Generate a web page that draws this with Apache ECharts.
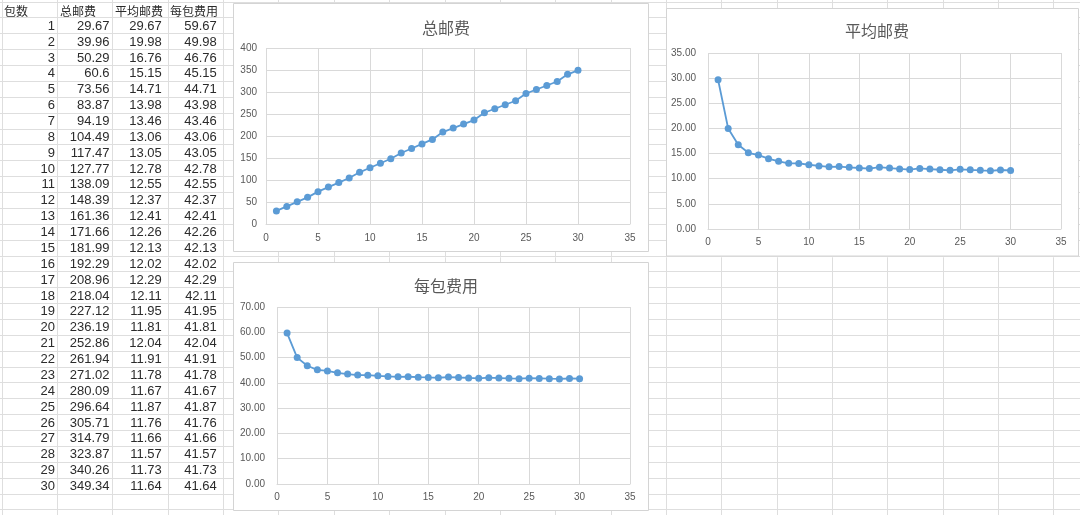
<!DOCTYPE html>
<html>
<head>
<meta charset="utf-8">
<script src="https://cdn.jsdelivr.net/npm/echarts@6/dist/echarts.min.js"></script>
<style>
  html, body { margin: 0; padding: 0; background: #fff; }
  #main { width: 1080px; height: 515px; }
</style>
</head>
<body>
<div id="main"></div>
<script>
// Sheet columns
const headers = ['包数', '总邮费', '平均邮费', '每包费用'];
const packages = [1, 2, 3, 4, 5, 6, 7, 8, 9, 10, 11, 12, 13, 14, 15, 16, 17, 18, 19, 20, 21, 22, 23, 24, 25, 26, 27, 28, 29, 30];
const totalFee = [29.67, 39.96, 50.29, 60.6, 73.56, 83.87, 94.19, 104.49, 117.47, 127.77, 138.09, 148.39, 161.36, 171.66, 181.99,
  192.29, 208.96, 218.04, 227.12, 236.19, 252.86, 261.94, 271.02, 280.09, 296.64, 305.71, 314.79, 323.87, 340.26, 349.34];
const avgFee = [29.67, 19.98, 16.76, 15.15, 14.71, 13.98, 13.46, 13.06, 13.05, 12.78, 12.55, 12.37, 12.41, 12.26, 12.13,
  12.02, 12.29, 12.11, 11.95, 11.81, 12.04, 11.91, 11.78, 11.67, 11.87, 11.76, 11.66, 11.57, 11.73, 11.64];
const perPackFee = [59.67, 49.98, 46.76, 45.15, 44.71, 43.98, 43.46, 43.06, 43.05, 42.78, 42.55, 42.37, 42.41, 42.26, 42.13,
  42.02, 42.29, 42.11, 41.95, 41.81, 42.04, 41.91, 41.78, 41.67, 41.87, 41.76, 41.66, 41.57, 41.73, 41.64];

const BLUE = '#5B9BD5';
const AXIS_TEXT = '#595959';
const GRID_LINE = '#D9D9D9';

// Worksheet cell geometry
const COL_X0 = 1.7, COL_W = 55.35;
const ROW_Y0 = 1.6, ROW_H = 15.87;

const graphics = [];

// Worksheet gridlines
for (let k = 0; k <= 19; k++) {
  const x = Math.round(COL_X0 + COL_W * k) + 0.5;
  graphics.push({ type: 'line', z: -30, silent: true,
    shape: { x1: x, y1: 0, x2: x, y2: 515 },
    style: { stroke: '#DEDEDE', lineWidth: 1 } });
}
for (let k = 0; k <= 32; k++) {
  const y = Math.round(ROW_Y0 + ROW_H * k) + 0.5;
  graphics.push({ type: 'line', z: -30, silent: true,
    shape: { x1: 0, y1: y, x2: 1080, y2: y },
    style: { stroke: '#DEDEDE', lineWidth: 1 } });
}

// Cell text
const cellFont = '13px "Liberation Sans Narrow", "Liberation Sans", Arial, sans-serif';
const headFont = '12px "Noto Sans CJK SC", sans-serif';
const headLeft = [4, 60, 115, 170];
headers.forEach((h, i) => {
  graphics.push({ type: 'text', z: -25, silent: true, x: headLeft[i], y: 11,
    style: { text: h, font: headFont, fill: '#2B2B2B', textAlign: 'left', textVerticalAlign: 'middle' } });
});
const colRight = [55, 109.5, 161.7, 216.7];
const columns = [packages, totalFee, avgFee, perPackFee];
packages.forEach((p, r) => {
  const y = ROW_Y0 + ROW_H * (r + 1.5) + 0.8;
  columns.forEach((col, c) => {
    graphics.push({ type: 'text', z: -25, silent: true, x: colRight[c], y: y,
      style: { text: String(col[r]), font: cellFont, fill: '#2B2B2B', textAlign: 'right', textVerticalAlign: 'middle' } });
  });
});

// Chart panels
const panels = [
  { x: 233.5, y: 3.5, width: 415, height: 248 },
  { x: 666.5, y: 8.5, width: 412, height: 247.5 },
  { x: 233.5, y: 262.5, width: 415, height: 248 }
];
panels.forEach(s => {
  graphics.push({ type: 'rect', z: -20, silent: true, shape: s,
    style: { fill: '#fff', stroke: '#D4D4D4', lineWidth: 1 } });
});

const grids = [
  { left: 266, top: 48, width: 364, height: 176 },
  { left: 708, top: 53, width: 353, height: 176 },
  { left: 277, top: 307, width: 353, height: 177 }
];

const labelFont = { color: AXIS_TEXT, fontSize: 10, fontFamily: '"Liberation Sans", Arial, sans-serif' };

function xAxisFor(i, margin) {
  return {
    type: 'value', gridIndex: i, min: 0, max: 35, interval: 5,
    axisLine: { show: true, lineStyle: { color: GRID_LINE } },
    axisTick: { show: false },
    splitLine: { show: true, lineStyle: { color: GRID_LINE, width: 1 } },
    axisLabel: Object.assign({ margin: margin }, labelFont)
  };
}
function yAxisFor(i, max, interval, decimals, margin) {
  return {
    type: 'value', gridIndex: i, min: 0, max: max, interval: interval,
    axisLine: { show: false },
    axisTick: { show: false },
    splitLine: { show: true, lineStyle: { color: GRID_LINE, width: 1 } },
    axisLabel: Object.assign({ margin: margin, formatter: v => v.toFixed(decimals) }, labelFont)
  };
}

function seriesFor(i, values) {
  return {
    type: 'line', xAxisIndex: i, yAxisIndex: i,
    data: packages.map((p, k) => [p, values[k]]),
    symbol: 'circle', symbolSize: 7,
    itemStyle: { color: BLUE },
    lineStyle: { color: BLUE, width: 1.8 },
    animation: false
  };
}

const titleStyle = { fontSize: 16, fontWeight: 'normal', color: AXIS_TEXT, fontFamily: '"Noto Sans CJK SC", sans-serif' };

const chart = echarts.init(document.getElementById('main'), null, { renderer: 'canvas' });
chart.setOption({
  animation: false,
  backgroundColor: '#fff',
  title: [
    { text: '总邮费', left: 441, top: 15, textAlign: 'center', textStyle: titleStyle },
    { text: '平均邮费', left: 872, top: 18, textAlign: 'center', textStyle: titleStyle },
    { text: '每包费用', left: 441, top: 273, textAlign: 'center', textStyle: titleStyle }
  ],
  grid: grids,
  xAxis: [xAxisFor(0, 9), xAxisFor(1, 8), xAxisFor(2, 8)],
  yAxis: [
    yAxisFor(0, 400, 50, 0, 9),
    yAxisFor(1, 35, 5, 2, 12),
    yAxisFor(2, 70, 10, 2, 12)
  ],
  series: [seriesFor(0, totalFee), seriesFor(1, avgFee), seriesFor(2, perPackFee)],
  graphic: { elements: graphics }
});
</script>
</body>
</html>
